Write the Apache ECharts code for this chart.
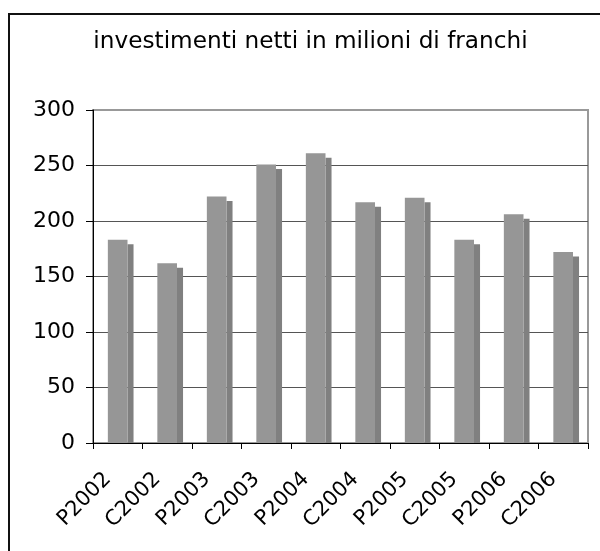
<!DOCTYPE html>
<html>
<head>
<meta charset="utf-8">
<script src="https://cdn.jsdelivr.net/npm/echarts@6/dist/echarts.min.js"></script>
<style>
  html, body { margin: 0; padding: 0; background: #fff; }
  #chart { width: 600px; height: 551px; }
</style>
</head>
<body>
<div id="chart"></div>
<script>
// Net investment per budget (P) and accounts (C) year, millions of francs
const categories = ['P2002', 'C2002', 'P2003', 'C2003', 'P2004', 'C2004', 'P2005', 'C2005', 'P2006', 'C2006'];
const investimenti = [183, 162, 222, 251, 261, 217, 221, 183, 206, 172];
const titleText = 'investimenti netti in milioni di franchi';

const FONT = 'DejaVu Sans, Verdana, sans-serif';
const chart = echarts.init(document.getElementById('chart'), null, { renderer: 'canvas' });

// Column with a darker side face, Excel 3-D style
function renderColumn(params, api) {
  const i = api.value(0);
  const v = api.value(1);
  const top = api.coord([i, v]);
  const base = api.coord([i, 0]);
  const bw = api.size([1, 0])[0];
  const fw = 0.397 * bw;
  const fl = top[0] - 0.2 * bw;
  const sw = 0.122 * bw;
  const drop = 4.5;
  return {
    type: 'group',
    children: [
      { type: 'rect', shape: { x: fl + fw, y: top[1] + drop, width: sw, height: base[1] - top[1] - drop }, style: { fill: '#808080' } },
      { type: 'rect', shape: { x: fl, y: top[1], width: fw, height: base[1] - top[1] }, style: { fill: '#969696' } }
    ]
  };
}

chart.setOption({
  animation: false,
  backgroundColor: '#ffffff',
  graphic: [
    {
      type: 'rect', z: -10, silent: true,
      shape: { x: 9, y: 14, width: 620, height: 620 },
      style: { fill: 'none', stroke: '#111', lineWidth: 2 }
    },
    {
      type: 'text', x: 310.5, y: 42,
      style: { text: titleText, align: 'center', verticalAlign: 'middle', font: '23.2px ' + FONT, fill: '#000' }
    }
  ],
  grid: {
    left: 93, right: 12, top: 110, bottom: 108,
    show: true, borderColor: '#999', borderWidth: 2, backgroundColor: 'transparent'
  },
  xAxis: {
    type: 'category',
    data: categories,
    boundaryGap: true,
    axisLine: { show: true, lineStyle: { color: '#000', width: 1 } },
    axisTick: { show: true, length: 6, alignWithLabel: false, lineStyle: { color: '#000' } },
    axisLabel: {
      interval: 0, rotate: 45, margin: 23, padding: [0, 14, 0, 0],
      color: '#000', fontSize: 21, fontFamily: FONT
    },
    splitLine: { show: false }
  },
  yAxis: {
    type: 'value',
    min: 0, max: 300, interval: 50,
    axisLine: { show: true, lineStyle: { color: '#000', width: 1 } },
    axisTick: { show: true, length: 7, lineStyle: { color: '#000' } },
    axisLabel: { margin: 18, color: '#000', fontSize: 22, fontFamily: FONT },
    splitLine: { show: true, showMaxLine: false, showMinLine: false, lineStyle: { color: '#555', width: 1 } }
  },
  series: [
    {
      type: 'custom',
      renderItem: renderColumn,
      data: investimenti.map((v, i) => [i, v]),
      encode: { x: 0, y: 1 },
      z: 2
    }
  ]
});
</script>
</body>
</html>
